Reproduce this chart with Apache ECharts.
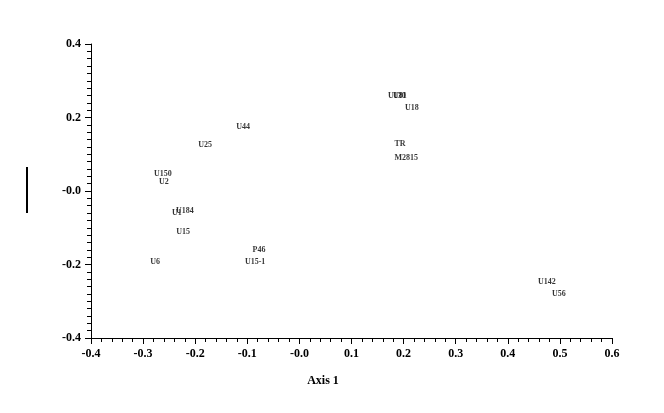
<!DOCTYPE html>
<html><head><meta charset="utf-8">
<script src="https://cdn.jsdelivr.net/npm/echarts@6/dist/echarts.min.js"></script>
<style>html,body{margin:0;padding:0;background:#fff}#c{width:664px;height:413px}</style>
</head><body><div id="c"></div>
<script>
var names = ['U150','U2','U1','U184','U15','U6','U25','U44','P46','U15-1','U130','U81','U18','TR','M2815','U142','U56'];
var xs = [-0.262,-0.260,-0.235,-0.220,-0.223,-0.277,-0.181,-0.108,-0.0775,-0.085,0.187,0.193,0.216,0.193,0.205,0.475,0.498];
var ys = [0.046,0.0245,-0.060,-0.054,-0.1116,-0.193,0.125,0.174,-0.1605,-0.193,0.2585,0.2585,0.226,0.128,0.090,-0.2476,-0.280];
var xTicks = [-0.4,-0.3,-0.2,-0.1,0,0.1,0.2,0.3,0.4,0.5,0.6];
var yTicks = [-0.4,-0.2,0,0.2,0.4];
var xTitle = 'Axis 1';

var data = names.map(function(n,i){return [xs[i], ys[i], n];});
function fmt(v){ if (Math.abs(v) < 1e-9) return '-0.0'; return v.toFixed(1); }
var font = 'Liberation Serif';
var chart = echarts.init(document.getElementById('c'));
chart.setOption({
  animation:false,
  backgroundColor:'#fff',
  grid:{left:91,right:52,top:44,bottom:75,containLabel:false},
  xAxis:{type:'value',min:xTicks[0],max:xTicks[xTicks.length-1],interval:0.1,
    axisLine:{onZero:false,lineStyle:{color:'#000',width:1}},
    axisTick:{show:true,length:6,lineStyle:{color:'#000'}},
    minorTick:{show:true,splitNumber:5,length:4,lineStyle:{color:'#000'}},
    splitLine:{show:false},
    axisLabel:{formatter:fmt,fontFamily:font,fontWeight:'bold',fontSize:12,color:'#000',margin:10}},
  yAxis:{type:'value',min:yTicks[0],max:yTicks[yTicks.length-1],interval:0.2,
    axisLine:{show:true,onZero:false,lineStyle:{color:'#000',width:1}},
    axisTick:{show:true,length:6,lineStyle:{color:'#000'}},
    minorTick:{show:true,splitNumber:10,length:4,lineStyle:{color:'#000'}},
    splitLine:{show:false},
    axisLabel:{formatter:fmt,fontFamily:font,fontWeight:'bold',fontSize:12,color:'#000',margin:10}},
  series:[{type:'scatter',data:data,symbolSize:0,
    label:{show:true,position:'inside',formatter:function(p){return p.data[2];},
      fontFamily:font,fontWeight:'bold',fontSize:8,color:'#000',align:'center',verticalAlign:'middle'}}],
  graphic:[
    {type:'rect',shape:{x:26,y:167,width:2,height:46},style:{fill:'#000'}},
    {type:'text',x:323,y:381,style:{text:xTitle,fontFamily:font,fontWeight:'bold',fontSize:12,fill:'#000',align:'center',verticalAlign:'middle'}}
  ]
});
</script></body></html>
